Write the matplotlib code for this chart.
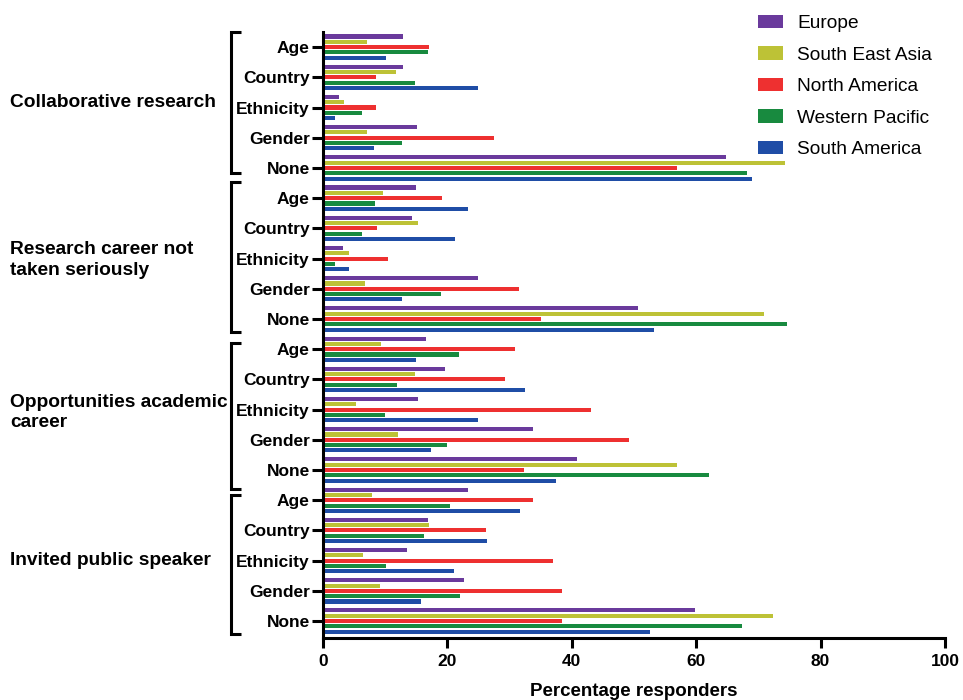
import matplotlib
matplotlib.use('Agg')
import matplotlib.pyplot as plt
import numpy as np
from matplotlib.transforms import blended_transform_factory

plt.rcParams['font.family'] = ['Liberation Sans', 'DejaVu Sans']

groups = ["Collaborative research", "Research career not\ntaken seriously",
          "Opportunities academic\ncareer", "Invited public speaker"]
categories = ["Age", "Country", "Ethnicity", "Gender", "None"]
regions = ["Europe", "South East Asia", "North America", "Western Pacific", "South America"]

# values ordered: group (Collab, Research, Opportunities, Invited) x category (Age..None)
europe = [12.9, 12.9, 2.6, 15.1, 64.8,
          14.9, 14.3, 3.2, 24.9, 50.7,
          16.5, 19.6, 15.2, 33.8, 40.8,
          23.3, 16.9, 13.5, 22.7, 59.8]
south_east_asia = [7.0, 11.7, 3.3, 7.0, 74.2,
                   9.6, 15.2, 4.1, 6.8, 70.9,
                   9.4, 14.8, 5.3, 12.1, 56.9,
                   7.8, 17.0, 6.5, 9.1, 72.4]
north_america = [17.1, 8.5, 8.5, 27.5, 56.9,
                 19.2, 8.7, 10.4, 31.5, 35.0,
                 30.8, 29.2, 43.1, 49.2, 32.3,
                 33.8, 26.2, 36.9, 38.5, 38.5]
western_pacific = [16.9, 14.8, 6.3, 12.7, 68.2,
                   8.4, 6.3, 1.9, 19.0, 74.6,
                   21.9, 11.9, 9.9, 20.0, 62.1,
                   20.4, 16.2, 10.1, 22.1, 67.4]
south_america = [10.2, 24.9, 1.9, 8.2, 68.9,
                 23.3, 21.2, 4.2, 12.7, 53.2,
                 14.9, 32.5, 24.9, 17.4, 37.5,
                 31.6, 26.3, 21.0, 15.7, 52.6]

series = [europe, south_east_asia, north_america, western_pacific, south_america]
colors = ["#6A3A9C", "#BDC236", "#EE3030", "#188A3F", "#1F4DA6"]

fig = plt.figure(figsize=(9.63, 7), dpi=100)
ax = fig.add_axes([323/963, 1-638/700, (945-323)/963, (638-32)/700])

n = len(groups) * len(categories)
y = np.arange(n)
pitch = 0.176
h = 0.135
for k, (vals, c, lab) in enumerate(zip(series, colors, regions)):
    ax.barh(y + (k - 2) * pitch, vals, height=h, color=c, label=lab, edgecolor='none')

ax.set_xlim(0, 100)
ax.set_ylim(19.56, -0.5)
ax.set_yticks(y)
ax.set_yticklabels(categories * len(groups), fontsize=12.5, fontweight='bold')
ax.set_xticks([0, 20, 40, 60, 80, 100])
ax.set_xticklabels(['0', '20', '40', '60', '80', '100'], fontsize=12.5, fontweight='bold')
for s in ['top', 'right']:
    ax.spines[s].set_visible(False)
for s in ['left', 'bottom']:
    ax.spines[s].set_linewidth(2.2)
ax.tick_params(axis='y', length=8, width=2.2, pad=1.5)
ax.tick_params(axis='x', length=7, width=2.2, pad=4.5)
ax.set_xlabel('Percentage responders', fontsize=13.5, fontweight='bold', labelpad=10)

# brackets
tr = blended_transform_factory(ax.transAxes, ax.transData)
tops = [-0.5, 4.47, 9.8, 14.83]
bottoms = [4.17, 9.44, 14.64, 19.44]
xl, xr = -0.148, -0.132
for t, b in zip(tops, bottoms):
    ax.plot([xr, xl, xl, xr], [t, t, b, b], color='black', lw=2.2,
            transform=tr, clip_on=False, solid_joinstyle='miter', solid_capstyle='butt')

# group labels
trf = blended_transform_factory(fig.transFigure, ax.transData)
label_y = [1.85, 7.05, 12.09, 17.0]
for g, ly in zip(groups, label_y):
    fig.text(10/963, ly, g, transform=trf, ha='left', va='center',
             fontsize=13.8, fontweight='bold', linespacing=1.25)

fig.legend(loc='upper left', bbox_to_anchor=(758/963, 1-15/700), frameon=False,
           fontsize=13.8, handlelength=1.3, handleheight=0.68, handletextpad=0.73,
           labelspacing=0.74, borderpad=0, borderaxespad=0)

fig.savefig('out.png', dpi=100)
